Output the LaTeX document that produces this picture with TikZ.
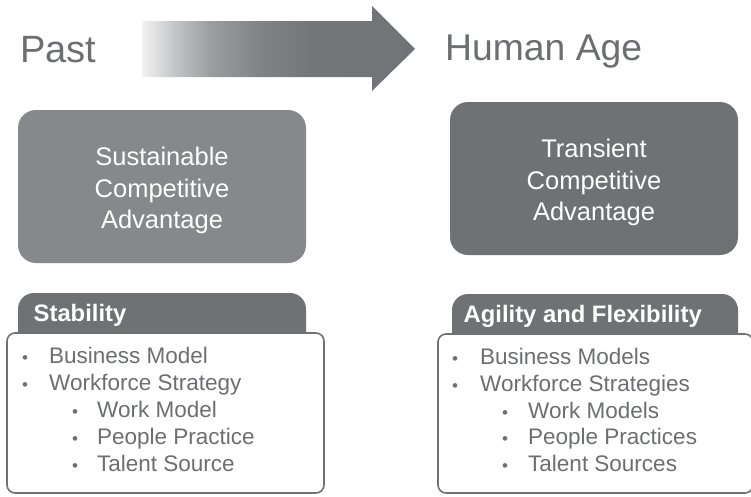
\documentclass[tikz,border=0pt]{standalone}
\usepackage{fontspec}
\setmainfont{Liberation Sans}
\usetikzlibrary{positioning}

\definecolor{boxgray}{HTML}{87888B}
\definecolor{tabgray}{HTML}{707174}
\definecolor{textgray}{HTML}{6D6E71}
\definecolor{fadeA}{HTML}{F2F2F2}
\definecolor{fadeB}{HTML}{C4C5C7}
\definecolor{fadeC}{HTML}{9C9DA0}
\definecolor{fadeD}{HTML}{828386}
\definecolor{fadeE}{HTML}{747578}
\pgfdeclarehorizontalshading{arrowfade}{100bp}{color(0bp)=(fadeA); color(25bp)=(fadeA); color(31bp)=(fadeB); color(37.5bp)=(fadeC); color(46.5bp)=(fadeD); color(56bp)=(fadeE); color(100bp)=(tabgray)}

\tikzset{
  bigbox/.style = {rectangle, rounded corners=18pt, inner sep=0pt, outer sep=0pt,
                   minimum width=288pt, minimum height=153pt},
  boxtext/.style = {text=white, align=center, inner sep=0pt,
                    font=\fontsize{25.5}{31.5}\selectfont},
  heading/.style = {text=textgray, anchor=base west, inner sep=0pt,
                    font=\fontsize{38}{44}\selectfont},
  tabtext/.style = {text=white, anchor=base west, inner sep=0pt,
                    font=\bfseries\fontsize{23.8}{26}\selectfont},
  listbox/.style = {draw=tabgray, line width=1.6pt, fill=white, rounded corners=8pt},
  tab/.style = {fill=tabgray, rounded corners=16pt},
  item/.style = {text=textgray, anchor=base west, inner sep=0pt,
                 font=\fontsize{22.5}{26}\selectfont},
  dot/.style = {text=textgray, anchor=base west, inner sep=0pt,
                font=\fontsize{17}{26}\selectfont}
}

\begin{document}
\begin{tikzpicture}[x=1pt, y=-1pt]
\useasboundingbox (0,0) rectangle (751,496);

% titles and arrow
\node[heading] (past) at (20,62) {Past};
\node[heading, font=\fontsize{37.3}{44}\selectfont] (human) at (445,60) {Human Age};
\path[shading=arrowfade] (142,21) -- (372,21) -- (372,6) -- (415,49)
  -- (372,91) -- (372,77) -- (142,77) -- cycle;

% advantage boxes
\node[bigbox, fill=boxgray] (sca) at (162,186.5) {};
\node[bigbox, fill=tabgray] (tca) at (594,178.5) {};
\node[boxtext] (sca-t) at (162,190.5) {Sustainable\\Competitive\\Advantage};
\node[boxtext] (tca-t) at (594,182.5) {Transient\\Competitive\\Advantage};

% tabs
\fill[tab] (18,340) -- (18,293) -- (306,293) -- (306,340);
\fill[tab] (452,340) -- (452,294) -- (738,294) -- (738,340);
\node[tabtext] (stab) at (33.5,321.5) {Stability};
\node[tabtext] (agil) at (463.5,322.5) {Agility and Flexibility};

% list boxes
\draw[listbox] (7,333) rectangle (324,493);
\draw[listbox] (438,334) rectangle (753,493);

% left list
\node[dot] (lb1) at (22,363) {•};
\node[item] (l1) at (49,363) {Business Model};
\node[dot] (lb2) at (22,390) {•};
\node[item] (l2) at (49,390) {Workforce Strategy};
\node[dot] (lb3) at (72,417) {•};
\node[item] (l3) at (97,417) {Work Model};
\node[dot] (lb4) at (72,444) {•};
\node[item] (l4) at (97,444) {People Practice};
\node[dot] (lb5) at (72,471) {•};
\node[item] (l5) at (97,471) {Talent Source};

% right list
\node[dot] (rb1) at (452,364) {•};
\node[item] (r1) at (480,364) {Business Models};
\node[dot] (rb2) at (452,391) {•};
\node[item] (r2) at (480,391) {Workforce Strategies};
\node[dot] (rb3) at (502,418) {•};
\node[item] (r3) at (528,418) {Work Models};
\node[dot] (rb4) at (502,444.5) {•};
\node[item] (r4) at (528,444.5) {People Practices};
\node[dot] (rb5) at (502,471) {•};
\node[item] (r5) at (528,471) {Talent Sources};
\end{tikzpicture}
\end{document}
